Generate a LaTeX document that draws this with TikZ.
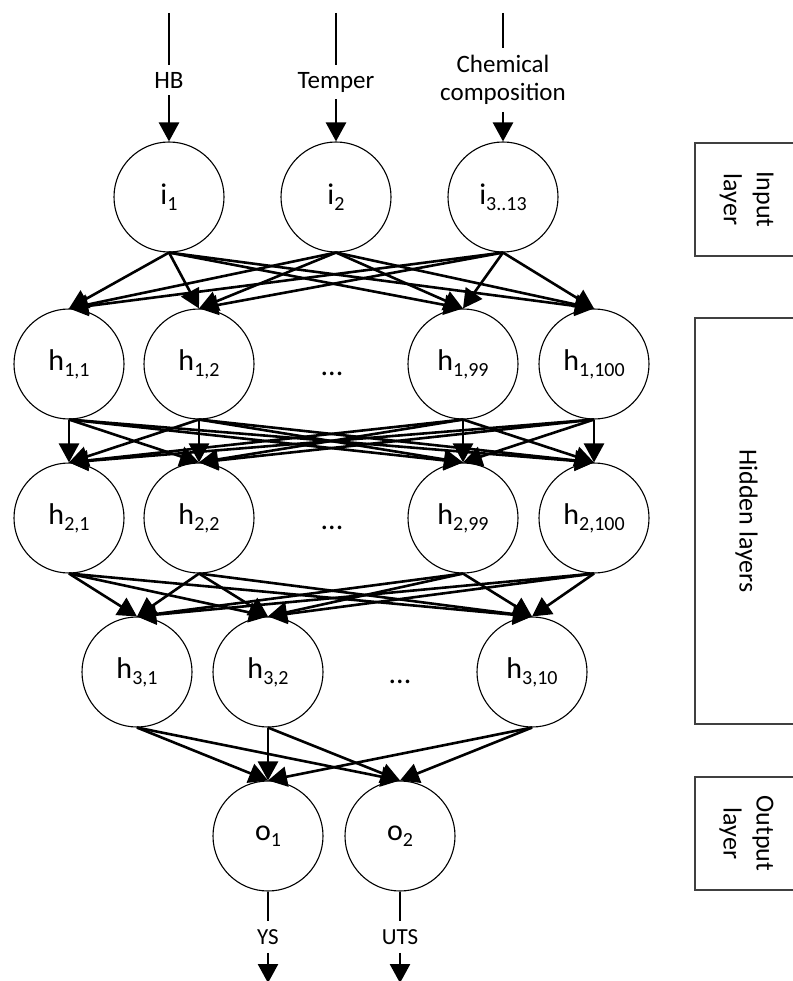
\documentclass[tikz,border=0pt]{standalone}
\usepackage{fontspec}
\setmainfont{Carlito}
\usetikzlibrary{arrows.meta}
\definecolor{nnInk}{RGB}{0,0,0}
\definecolor{nnBox}{RGB}{64,64,64}
\newcommand{\nsub}[1]{\raisebox{-6pt}{\fontsize{20}{20}\selectfont #1}}

\begin{document}
\begin{tikzpicture}[x=1pt,y=-1pt,
  neuron/.style={circle,draw=nnInk,line width=1.1pt,fill=white,minimum size=110pt,
                 inner sep=0pt,font=\fontsize{30}{36}\selectfont},
  gapdots/.style={font=\fontsize{30}{36}\selectfont,inner sep=0pt},
  iolbl/.style={font=\fontsize{25}{28}\selectfont,inner xsep=2pt,inner ysep=7pt,align=center},
  outlbl/.style={font=\fontsize{23}{26}\selectfont,inner xsep=2pt,inner ysep=8pt},
  sidebox/.style={draw=nnBox,line width=1.2pt,rotate=-90,align=center,inner sep=0pt,
                  font=\fontsize{26}{33}\selectfont,minimum height=103pt},
  arr/.style={-{Triangle[length=19pt,width=20pt]},line width=2.6pt,draw=nnInk},
  wire/.style={line width=2.6pt,draw=nnInk}]
\path[use as bounding box,fill=white] (0,0) rectangle (792,981);

% ===== INPUTS — labels on top =====
\coordinate (tHB) at (169,13);
\coordinate (tTmp) at (336,13);
\coordinate (tChem) at (503,13);
\node[iolbl] (HB) at (169,80) {HB};
\node[iolbl] (Tmp) at (336,82) {Temper};
\node[iolbl] (Chem) at (503,80) {Chemical\\composition};

% ===== INPUT LAYER =====
\node[neuron] (i1) at (169,197) {i\nsub{1}};
\node[neuron] (i2) at (336,197) {i\nsub{2}};
\node[neuron] (i3) at (503,197) {i\nsub{3..13}};

\draw[wire] (tHB) -- (HB);
\draw[wire] (tTmp) -- (Tmp);
\draw[wire] (tChem) -- (Chem);
\draw[arr] (HB) -- (i1);
\draw[arr] (Tmp) -- (i2);
\draw[arr] (Chem) -- (i3);

% ===== HIDDEN LAYER 1 =====
\node[neuron] (h1a) at (69,364) {h\nsub{1,1}};
\node[neuron] (h1b) at (199,364) {h\nsub{1,2}};
\node[gapdots] (d1) at (332,374) {...};
\node[neuron] (h1c) at (463,364) {h\nsub{1,99}};
\node[neuron] (h1d) at (594,364) {h\nsub{1,100}};

% ===== HIDDEN LAYER 2 =====
\node[neuron] (h2a) at (69,518) {h\nsub{2,1}};
\node[neuron] (h2b) at (199,518) {h\nsub{2,2}};
\node[gapdots] (d2) at (332,528) {...};
\node[neuron] (h2c) at (463,518) {h\nsub{2,99}};
\node[neuron] (h2d) at (594,518) {h\nsub{2,100}};

% ===== HIDDEN LAYER 3 =====
\node[neuron] (h3a) at (137,672) {h\nsub{3,1}};
\node[neuron] (h3b) at (268,672) {h\nsub{3,2}};
\node[gapdots] (d3) at (400,682) {...};
\node[neuron] (h3c) at (532,672) {h\nsub{3,10}};

% ===== OUTPUT LAYER =====
\node[neuron] (o1) at (268,836) {o\nsub{1}};
\node[neuron] (o2) at (400,836) {o\nsub{2}};

% Full connections between drawn neurons
\foreach \s in {i1,i2,i3}
  \foreach \t in {h1a,h1b,h1c,h1d}
    \draw[arr] (\s.south) -- (\t.north);
\foreach \s in {h1a,h1b,h1c,h1d}
  \foreach \t in {h2a,h2b,h2c,h2d}
    \draw[arr] (\s.south) -- (\t.north);
\foreach \s in {h2a,h2b,h2c,h2d}
  \foreach \t in {h3a,h3b,h3c}
    \draw[arr] (\s.south) -- (\t.north);
\foreach \s in {h3a,h3b,h3c}
  \foreach \t in {o1,o2}
    \draw[arr] (\s.south) -- (\t.north);

% ===== OUTPUTS — labels below =====
\node[outlbl] (YS) at (268,937) {YS};
\node[outlbl] (UTS) at (400,937) {UTS};
\coordinate (eYS) at (268,983);
\coordinate (eUTS) at (400,983);
\draw[wire] (o1) -- (YS);
\draw[wire] (o2) -- (UTS);
\draw[arr] (YS) -- (eYS);
\draw[arr] (UTS) -- (eUTS);

% ===== Layer boxes on the right =====
\node[sidebox,minimum width=113pt] (inBox) at (746.5,199.5) {Input\\layer};
\node[sidebox,minimum width=406pt] (hidBox) at (746.5,521) {Hidden layers};
\node[sidebox,minimum width=113pt] (outBox) at (746.5,833.5) {Output\\layer};
\end{tikzpicture}
\end{document}
